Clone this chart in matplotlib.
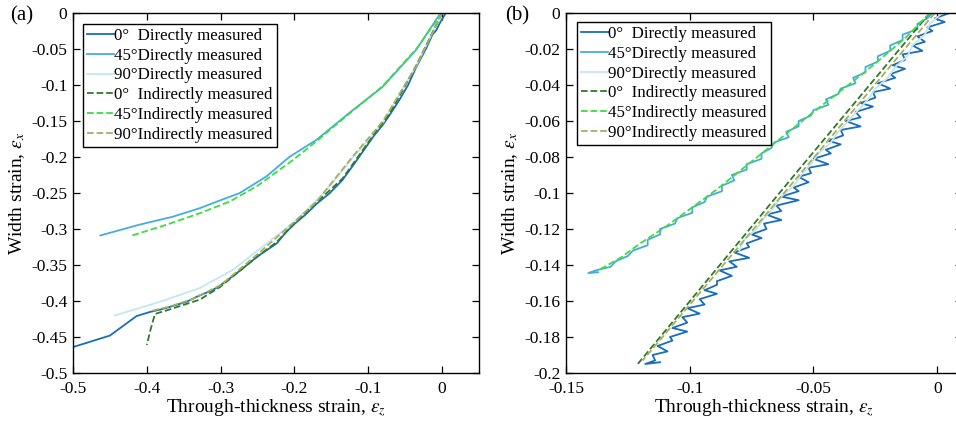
"""Width strain vs through-thickness strain, two panels, MATLAB-ish look."""

import matplotlib

matplotlib.use("Agg")
import matplotlib.pyplot as plt
from matplotlib.ticker import FuncFormatter

plt.rcParams["font.family"] = ["Liberation Serif", "DejaVu Serif"]
plt.rcParams["mathtext.fontset"] = "stix"
plt.rcParams["axes.unicode_minus"] = False

# ---- panel (a) data ----
a0_dir_x = [0.005, -0.002, -0.008, -0.013, -0.022, -0.035, -0.046, -0.058, -0.07, -0.08, -0.092,
            -0.103, -0.118, -0.135, -0.152, -0.17, -0.185, -0.2, -0.212, -0.224, -0.25, -0.274,
            -0.3, -0.311, -0.33, -0.346, -0.365, -0.382, -0.395, -0.414, -0.45, -0.5]
a0_dir_y = [0.0, -0.012, -0.024, -0.03, -0.05, -0.075, -0.1, -0.121, -0.14, -0.155, -0.17,
            -0.186, -0.208, -0.232, -0.25, -0.265, -0.28, -0.293, -0.305, -0.32, -0.338, -0.358,
            -0.378, -0.385, -0.393, -0.401, -0.407, -0.412, -0.415, -0.421, -0.448, -0.464]
a45_dir_x = [-0.004, -0.035, -0.081, -0.126, -0.17, -0.207, -0.238, -0.274, -0.3, -0.328, -0.365, -0.41, -0.463]
a45_dir_y = [-0.003, -0.051, -0.103, -0.139, -0.176, -0.2, -0.227, -0.25, -0.26, -0.271, -0.283, -0.294, -0.309]
a90_dir_x = [0.0, -0.035, -0.08, -0.12, -0.16, -0.2, -0.25, -0.284, -0.328, -0.382, -0.443]
a90_dir_y = [0.0, -0.073, -0.152, -0.2, -0.25, -0.29, -0.33, -0.357, -0.382, -0.401, -0.42]
a0_ind_x = [0.0, -0.035, -0.07, -0.103, -0.135, -0.17, -0.2, -0.224, -0.25, -0.274, -0.3, -0.328, -0.373, -0.389, -0.395, -0.4]
a0_ind_y = [0.0, -0.073, -0.138, -0.184, -0.23, -0.263, -0.292, -0.318, -0.338, -0.358, -0.38, -0.398, -0.413, -0.418, -0.44, -0.461]
a45_ind_x = [0.0, -0.035, -0.081, -0.126, -0.17, -0.203, -0.25, -0.288, -0.328, -0.373, -0.42]
a45_ind_y = [0.0, -0.05, -0.102, -0.14, -0.178, -0.205, -0.24, -0.262, -0.278, -0.294, -0.309]
a90_ind_x = [0.0, -0.035, -0.08, -0.12, -0.17, -0.2, -0.25, -0.3, -0.34, -0.37, -0.395]
a90_ind_y = [0.0, -0.074, -0.15, -0.198, -0.262, -0.29, -0.335, -0.378, -0.398, -0.408, -0.414]

# ---- panel (b) data ----
b0_dir_x = [0.005, -0.001, 0.003, -0.004, -0.002, -0.008, -0.005, -0.010, -0.006, -0.014,
            -0.013, -0.018, -0.013, -0.019, -0.017, -0.024, -0.019, -0.026, -0.025, -0.031,
            -0.026, -0.033, -0.031, -0.037, -0.031, -0.039, -0.038, -0.044, -0.039, -0.045,
            -0.043, -0.050, -0.044, -0.052, -0.051, -0.056, -0.052, -0.058, -0.056, -0.063,
            -0.056, -0.065, -0.063, -0.069, -0.063, -0.070, -0.069, -0.075, -0.071, -0.077,
            -0.076, -0.082, -0.076, -0.084, -0.081, -0.088, -0.083, -0.089, -0.089, -0.094,
            -0.089, -0.096, -0.094, -0.101, -0.096, -0.103, -0.101, -0.107, -0.101, -0.108,
            -0.107, -0.113, -0.109, -0.115, -0.114, -0.118, -0.112]
b0_dir_y = [0.0, -0.003, -0.005, -0.008, -0.010, -0.013, -0.016, -0.018, -0.021, -0.023,
            -0.026, -0.029, -0.031, -0.034, -0.036, -0.039, -0.042, -0.044, -0.047, -0.050,
            -0.052, -0.055, -0.058, -0.060, -0.063, -0.065, -0.068, -0.071, -0.073, -0.076,
            -0.078, -0.081, -0.084, -0.086, -0.089, -0.091, -0.094, -0.097, -0.099, -0.102,
            -0.104, -0.107, -0.110, -0.112, -0.115, -0.117, -0.120, -0.123, -0.125, -0.128,
            -0.130, -0.133, -0.136, -0.138, -0.141, -0.143, -0.146, -0.149, -0.151, -0.154,
            -0.156, -0.159, -0.162, -0.164, -0.167, -0.169, -0.172, -0.175, -0.177, -0.180,
            -0.182, -0.185, -0.188, -0.190, -0.193, -0.195, -0.194]
b45_dir_x = [-0.002, -0.004, -0.008, -0.008, -0.014, -0.014, -0.019, -0.019, -0.024, -0.024,
             -0.029, -0.029, -0.034, -0.033, -0.039, -0.040, -0.045, -0.044, -0.050, -0.051,
             -0.056, -0.056, -0.061, -0.060, -0.066, -0.067, -0.071, -0.071, -0.077, -0.077,
             -0.083, -0.082, -0.087, -0.087, -0.093, -0.094, -0.099, -0.099, -0.105, -0.106,
             -0.112, -0.112, -0.117, -0.117, -0.123, -0.125, -0.130, -0.132, -0.138, -0.141,
             -0.137]
b45_dir_y = [0.0, -0.003, -0.006, -0.009, -0.012, -0.015, -0.018, -0.021, -0.024, -0.027,
             -0.030, -0.033, -0.036, -0.039, -0.042, -0.045, -0.048, -0.051, -0.054, -0.057,
             -0.060, -0.063, -0.066, -0.069, -0.072, -0.075, -0.078, -0.081, -0.084, -0.087,
             -0.090, -0.093, -0.096, -0.099, -0.102, -0.105, -0.108, -0.111, -0.114, -0.117,
             -0.120, -0.123, -0.126, -0.129, -0.132, -0.135, -0.138, -0.141, -0.143, -0.1445,
             -0.144]
b90_dir_x = [0.002, -0.003, -0.005, -0.010, -0.012, -0.017, -0.020, -0.025, -0.028, -0.032,
             -0.036, -0.040, -0.043, -0.048, -0.051, -0.055, -0.058, -0.063, -0.066, -0.070,
             -0.073, -0.078, -0.080]
b90_dir_y = [0.0, -0.006, -0.012, -0.018, -0.024, -0.030, -0.036, -0.042, -0.048, -0.054,
             -0.060, -0.066, -0.072, -0.078, -0.084, -0.090, -0.096, -0.102, -0.108, -0.114,
             -0.120, -0.126, -0.132]
b0_ind_x = [-0.003, -0.055, -0.121]
b0_ind_y = [0.0, -0.0855, -0.195]
b45_ind_x = [-0.003, -0.013, -0.025, -0.035, -0.05, -0.06, -0.07, -0.08, -0.09, -0.1,
             -0.11, -0.12, -0.128, -0.137]
b45_ind_y = [0.0, -0.014, -0.028, -0.039, -0.055, -0.066, -0.077, -0.088, -0.099, -0.109,
             -0.119, -0.128, -0.136, -0.143]
b90_ind_x = [-0.001, -0.053, -0.119]
b90_ind_y = [0.0, -0.0855, -0.193]

labels = ["0°  Directly measured", "45°Directly measured", "90°Directly measured",
          "0°  Indirectly measured", "45°Indirectly measured", "90°Indirectly measured"]
colors = ["#1a6db8", "#45ace0", "#c4e6f4", "#2f7a2a", "#3fdc3f", "#a8ae5c"]
styles = ["-", "-", "-", "--", "--", "--"]

fmt = FuncFormatter(lambda v, _: "0" if abs(v) < 1e-9 else f"{v:g}")


def style_axes(ax):
    ax.tick_params(direction="in", top=True, right=True, length=5, width=0.9,
                   labelsize=12.5, pad=4)
    ax.tick_params(axis="x", pad=6)
    for s in ax.spines.values():
        s.set_linewidth(1.0)
    ax.xaxis.set_major_formatter(fmt)
    ax.yaxis.set_major_formatter(fmt)
    ax.set_xlabel(r"Through-thickness strain, $\varepsilon_z$", fontsize=14, labelpad=0)
    ax.set_ylabel(r"Width strain, $\varepsilon_x$", fontsize=14, labelpad=3)


def draw(ax, series, anchor):
    for (x, y), lab, c, ls in zip(series, labels, colors, styles):
        ax.plot(x, y, ls, color=c, lw=1.3, label=lab)
    leg = ax.legend(loc="upper left", bbox_to_anchor=anchor, borderaxespad=0,
                    fontsize=12.2, handlelength=1.6, handletextpad=0.0,
                    labelspacing=0.22, borderpad=0.25, fancybox=False, framealpha=1)
    leg.get_frame().set_edgecolor("black")
    leg.get_frame().set_linewidth(1.0)


fig = plt.figure(figsize=(9.56, 4.23), dpi=100)
ax1 = fig.add_axes([73 / 956, 50 / 423, 406 / 956, 360 / 423])
ax2 = fig.add_axes([566 / 956, 50 / 423, 396 / 956, 360 / 423])

draw(ax1, [(a0_dir_x, a0_dir_y), (a45_dir_x, a45_dir_y), (a90_dir_x, a90_dir_y),
           (a0_ind_x, a0_ind_y), (a45_ind_x, a45_ind_y), (a90_ind_x, a90_ind_y)],
     (0.025, 0.97))
ax1.set_xlim(-0.5, 0.05)
ax1.set_ylim(-0.5, 0)
ax1.set_xticks([-0.5, -0.4, -0.3, -0.2, -0.1, 0])
ax1.set_yticks([-0.5, -0.45, -0.4, -0.35, -0.3, -0.25, -0.2, -0.15, -0.1, -0.05, 0])
style_axes(ax1)

draw(ax2, [(b0_dir_x, b0_dir_y), (b45_dir_x, b45_dir_y), (b90_dir_x, b90_dir_y),
           (b0_ind_x, b0_ind_y), (b45_ind_x, b45_ind_y), (b90_ind_x, b90_ind_y)],
     (0.028, 0.975))
ax2.set_xlim(-0.15, 0.01)
ax2.set_ylim(-0.2, 0)
ax2.set_xticks([-0.15, -0.1, -0.05, 0])
ax2.set_yticks([-0.2, -0.18, -0.16, -0.14, -0.12, -0.1, -0.08, -0.06, -0.04, -0.02, 0])
style_axes(ax2)

fig.text(10 / 956, 1 - 16 / 423, "(a)", fontsize=15, va="center", ha="left")
fig.text(505 / 956, 1 - 16 / 423, "(b)", fontsize=15, va="center", ha="left")

fig.savefig("out.png", dpi=100)
